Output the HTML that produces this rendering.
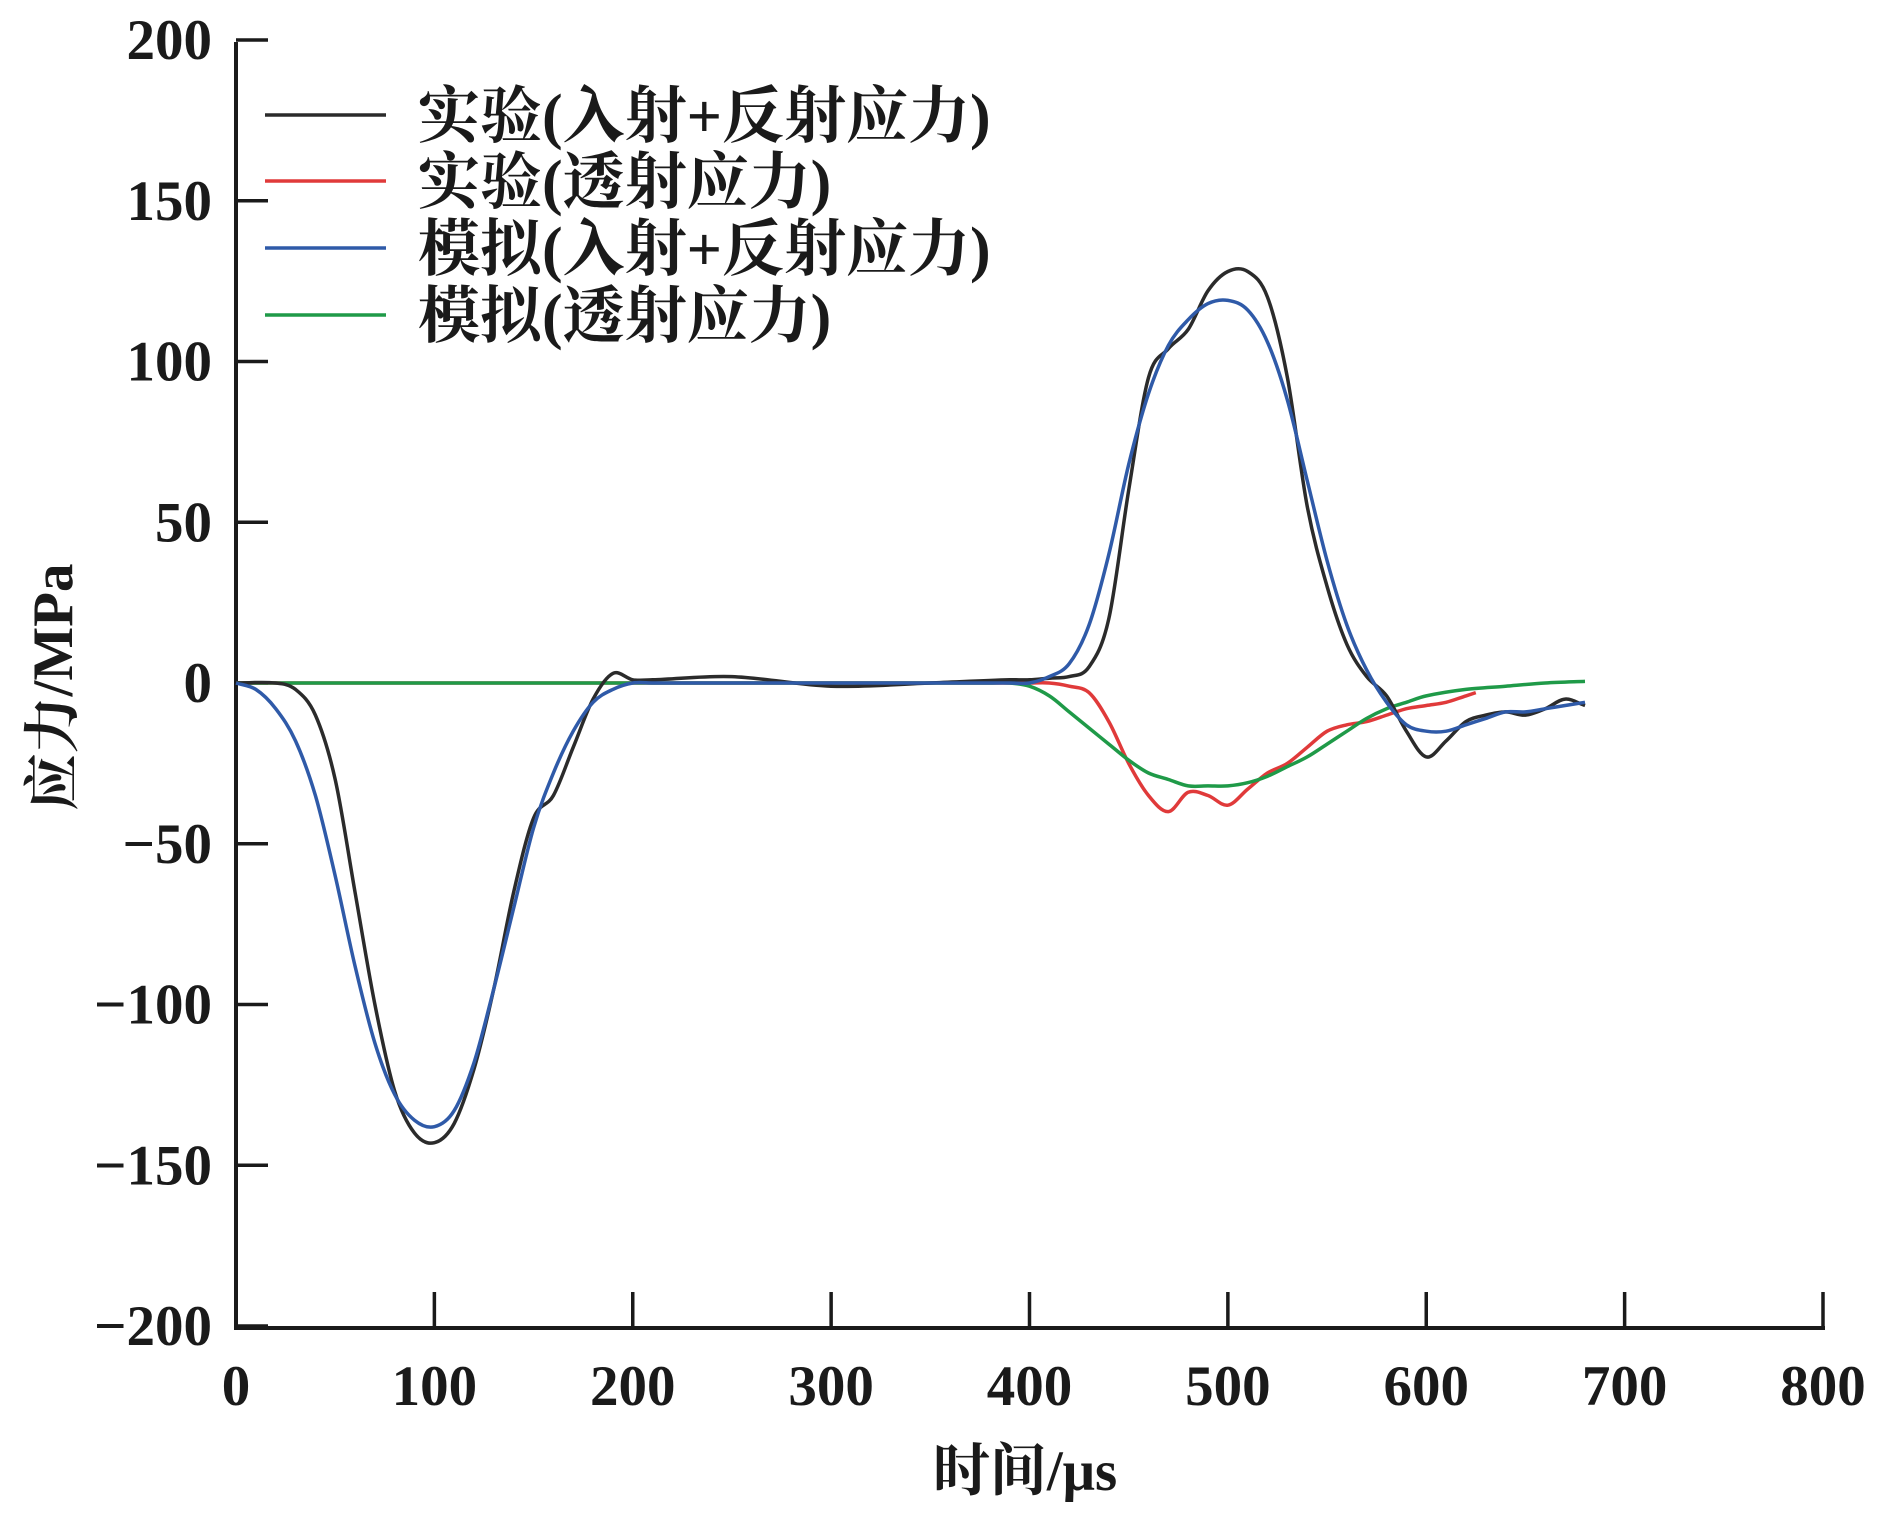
<!DOCTYPE html>
<html><head><meta charset="utf-8">
<style>
html,body{margin:0;padding:0;background:#fff;}
svg{display:block;}
.tk{font-family:"Liberation Serif","Noto Serif CJK SC",serif;font-size:57px;font-weight:bold;fill:#1a1a1a;}
.lg{font-family:"Liberation Serif","Noto Serif CJK SC",serif;font-size:62px;font-weight:bold;fill:#1a1a1a;}
</style></head>
<body>
<svg id="chart" width="1890" height="1520" viewBox="0 0 1890 1520">
<g id="axes"></g>
<g id="series"></g>
<g id="legend"></g>
</svg>
<script>
const xTicks=[0,100,200,300,400,500,600,700,800];
const yTicks=[200,150,100,50,0,-50,-100,-150,-200];
const expIncT=[0,20,30,40,50,60,70,80,90,100,110,120,130,140,150,160,170,180,190,200,210,250,300,350,390,400,410,420,430,440,450,460,470,480,490,500,510,520,530,540,550,560,570,580,590,600,610,620,630,640,650,660,670,680];
const expIncV=[0,0,-2,-10,-30,-65,-100,-127,-140,-143,-137,-120,-95,-65,-42,-35,-20,-5,3,1,1,2,-1,0,1,1,1.5,2,5,20,60,95,104,110,122,128,128,120,95,55,30,12,2,-4,-15,-23,-18,-12,-10,-9,-10,-8,-5,-7];
const simIncT=[0,10,20,30,40,50,60,70,80,90,100,110,120,130,140,150,160,170,180,190,200,210,300,390,400,410,420,430,440,450,460,470,480,490,500,510,520,530,540,550,560,570,580,590,600,610,620,630,640,650,660,670,680];
const simIncV=[0,-2,-8,-18,-35,-60,-88,-112,-128,-136,-138,-133,-118,-95,-70,-45,-28,-15,-6,-2,0,0,0,0,0,2,6,18,40,68,90,105,113,118,119,116,106,88,63,38,18,4,-6,-13,-15,-15,-13,-11,-9,-9,-8,-7,-6];
const expTrT=[0,100,200,300,380,390,400,410,420,430,440,450,460,470,480,490,500,510,520,530,540,550,560,570,580,590,600,610,620,625];
const expTrV=[0,0,0,0,0,0,0,0,-1,-3,-12,-25,-35,-40,-34,-35,-38,-33,-28,-25,-20,-15,-13,-12,-10,-8,-7,-6,-4,-3];
const simTrT=[0,380,390,400,410,420,430,440,450,460,470,480,490,500,510,520,530,540,550,560,570,580,590,600,620,640,660,680];
const simTrV=[0,0,0,-1,-4,-9,-14,-19,-24,-28,-30,-32,-32,-32,-31,-29,-26,-23,-19,-15,-11,-8,-6,-4,-2,-1,0,0.5];
const legendLabels=["实验(入射+反射应力)","实验(透射应力)","模拟(入射+反射应力)","模拟(透射应力)"];
const colors=["#2b2b2b","#e03a3a","#2f5aa8","#1f9a48"];

const X0=236,X1=1823,Y0=683,YT=42,YB=1328;
function px(x){return X0+x*(X1-X0)/800;}
function py(y){return Y0-y*(YB-YT)/400;}
const NS="http://www.w3.org/2000/svg";
function mk(tag,attrs,parent,txt){const e=document.createElementNS(NS,tag);for(const k in attrs)e.setAttribute(k,attrs[k]);if(txt!==undefined)e.textContent=txt;parent.appendChild(e);return e;}
const axes=document.getElementById('axes');
let e=mk('line',{x1:X0,y1:YT,x2:X0,y2:YB+2,stroke:'#1a1a1a','stroke-width':4},axes);


e=mk('line',{x1:X0-2,y1:YB,x2:X1+2,y2:YB,stroke:'#1a1a1a','stroke-width':4},axes);


xTicks.forEach(v=>{
  if(v>0){const t=mk('line',{x1:px(v),y1:YB,x2:px(v),y2:YB-36,stroke:'#1a1a1a','stroke-width':3.5},axes);
  
  }
  const l=mk('text',{x:px(v),y:1405,'text-anchor':'middle',class:'tk'},axes,String(v));
  
  
});
yTicks.forEach(v=>{
  const t=mk('line',{x1:X0,y1:py(v),x2:X0+32,y2:py(v),stroke:'#1a1a1a','stroke-width':3.5},axes);
  
  
  const l=mk('text',{x:212,y:py(v)+19,'text-anchor':'end',class:'tk'},axes,v<0?'\u2212'+(-v):String(v));
  
  
});
e=mk('text',{x:1025,y:1490,'text-anchor':'middle',class:'tk'},axes,'时间/μs');


e=mk('text',{x:0,y:0,'text-anchor':'middle',class:'tk',transform:'translate(72,687) rotate(-90)'},axes,'应力/MPa');



function smooth(P){
  let d='M'+P[0][0].toFixed(1)+','+P[0][1].toFixed(1);
  for(let i=0;i<P.length-1;i++){
    const p0=P[Math.max(0,i-1)],p1=P[i],p2=P[i+1],p3=P[Math.min(P.length-1,i+2)];
    const h=p2[0]-p1[0];
    const s1=(p2[1]-p0[1])/Math.max(1e-6,p2[0]-p0[0]);
    const s2=(p3[1]-p1[1])/Math.max(1e-6,p3[0]-p1[0]);
    const c1=[p1[0]+h/3,p1[1]+s1*h/3];
    const c2=[p2[0]-h/3,p2[1]-s2*h/3];
    d+=' C'+c1[0].toFixed(1)+','+c1[1].toFixed(1)+' '+c2[0].toFixed(1)+','+c2[1].toFixed(1)+' '+p2[0].toFixed(1)+','+p2[1].toFixed(1);
  }
  return d;
}
const ser=document.getElementById('series');
const all=[[expIncT,expIncV],[expTrT,expTrV],[simIncT,simIncV],[simTrT,simTrV]];
const names=['exp-incident-reflected-line','exp-transmitted-line','sim-incident-reflected-line','sim-transmitted-line'];
[1,3,0,2].forEach(i=>{
  const [T,V]=all[i];
  const P=T.map((t,j)=>[px(t),py(V[j])]);
  const p=mk('path',{d:smooth(P),fill:'none',stroke:colors[i],'stroke-width':3.5,'stroke-linejoin':'round'},ser);
  
  
});
const lg=document.getElementById('legend');
const rowsY=[115,181,248,315];
legendLabels.forEach((s,i)=>{
  const l=mk('line',{x1:265,y1:rowsY[i],x2:386,y2:rowsY[i],stroke:colors[i],'stroke-width':3.5},lg);
  
  
  const t=mk('text',{x:418,y:rowsY[i]+22,class:'lg'},lg,s);
  
  
});
</script>
</body></html>
